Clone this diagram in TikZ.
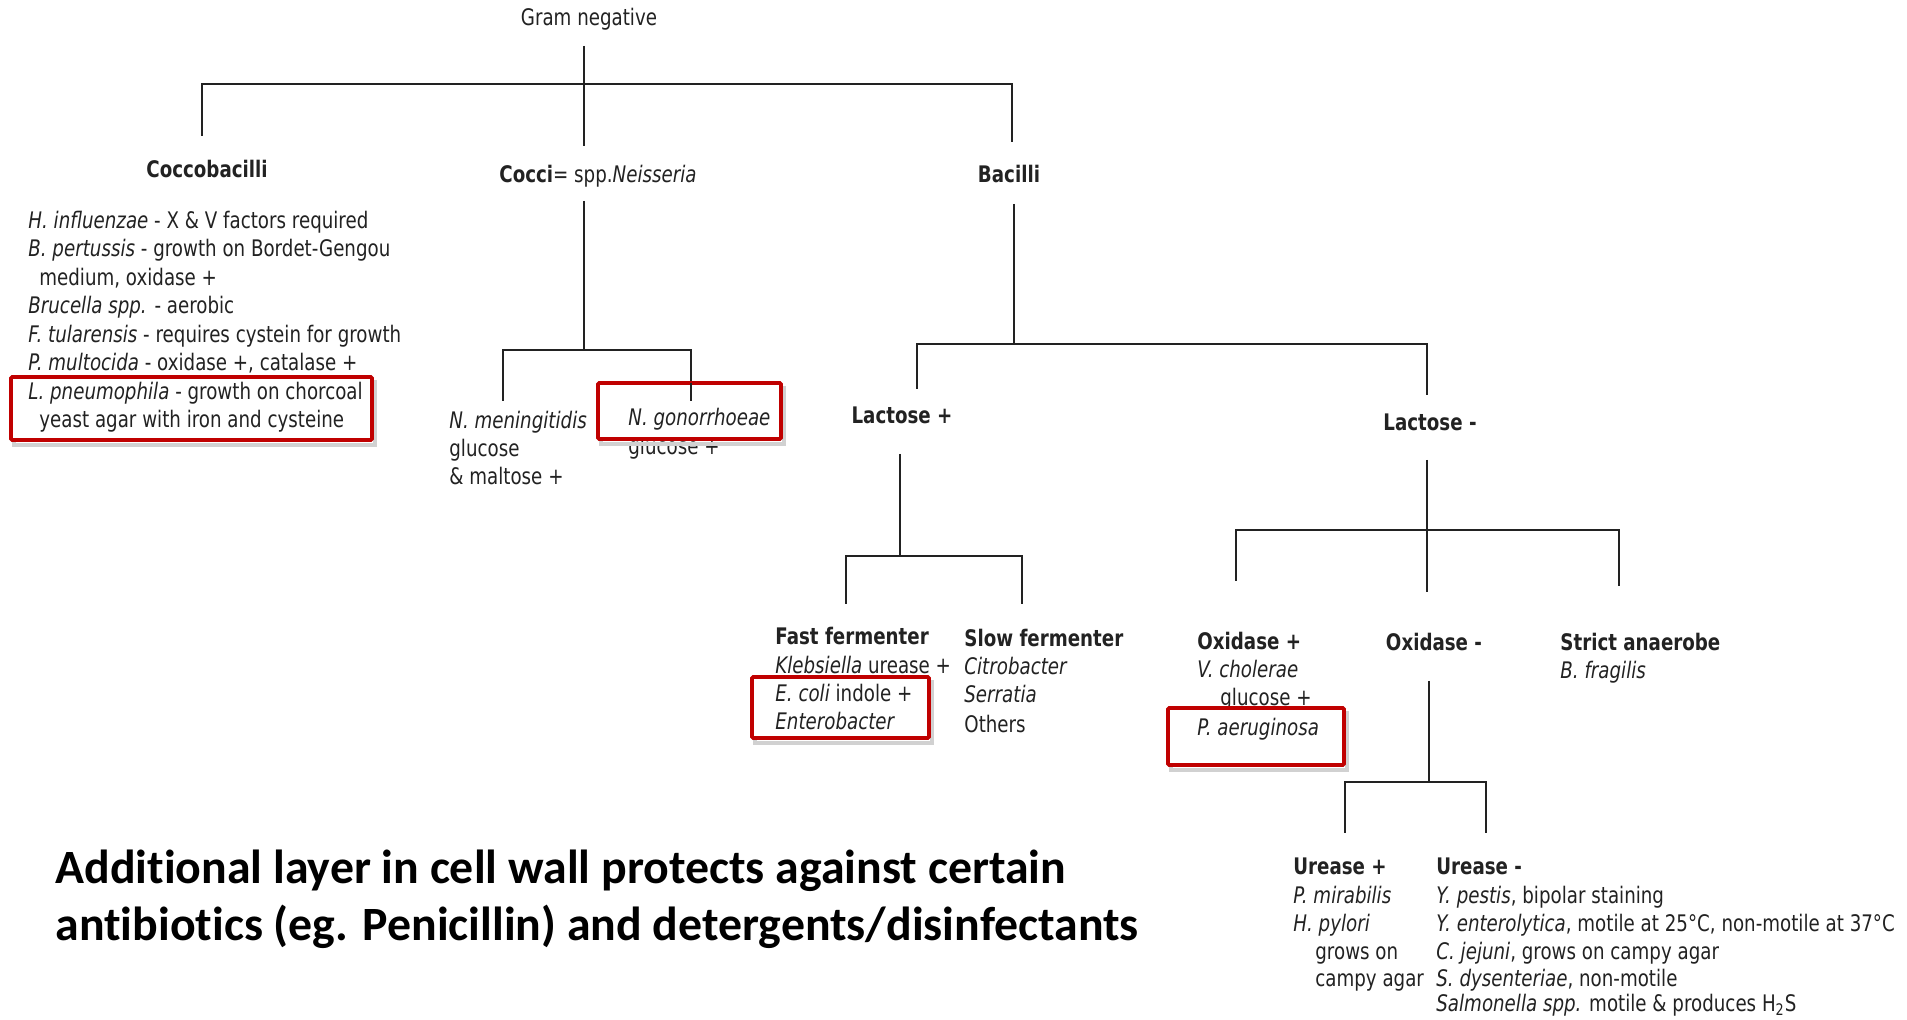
\documentclass[tikz,border=0pt]{standalone}
\usepackage{fontspec}
\setmainfont{DejaVu Sans}
\newfontfamily\dv[FakeStretch=0.8]{DejaVu Sans}
\newfontfamily\cb[Ligatures=NoCommon]{Carlito}
\definecolor{boxred}{HTML}{C00000}
\definecolor{ink}{HTML}{222222}
\begin{document}
\begin{tikzpicture}[x=0.5pt,y=-0.5pt,
  tl/.style={line width=0.75pt, draw=ink},
  tx/.style={font=\dv\fontsize{11.4}{13}\selectfont, text=ink, inner sep=0pt, text height=8.3pt, text depth=0pt, anchor=west},
  hd/.style={tx, font=\dv\bfseries\fontsize{11.4}{13}\selectfont},
  redbox/.style={draw=boxred, line width=1.8pt, rounded corners=0.6pt},
  shadowbox/.style={draw=black!18, line width=2.2pt},
  big/.style={font=\cb\bfseries\fontsize{23.9}{28}\selectfont, text=black, inner sep=0pt, anchor=west}]
\useasboundingbox (0,0) rectangle (1907,1020);
\fill[white] (0,0) rectangle (1907,1020);

% ---------- level 1 ----------
\node[tx, anchor=center] (gram) at (589,17) {Gram negative};
\node[hd, anchor=center] (cocb) at (207,169) {Coccobacilli};
\node[tx, anchor=center] (cocci) at (598,174) {\bfseries Cocci\mdseries= spp.\textit{Neisseria}};
\node[hd, anchor=center] (bac) at (1009,174) {Bacilli};

\coordinate (gA) at (584,46);   \coordinate (gB) at (584,146);
\coordinate (bL) at (202,84);   \coordinate (bR) at (1012,84);
\coordinate (bLd) at (202,136); \coordinate (bRd) at (1012,142);
\draw[tl] (gA) -- (gB);
\draw[tl] (bLd) -- (bL) -- (bR) -- (bRd);

% ---------- Coccobacilli list ----------
\node[tx] (cb1) at (28,220) {\textit{H. influenzae} - X \& V factors required};
\node[tx] (cb2) at (28,248.5) {\textit{B. pertussis} - growth on Bordet-Gengou};
\node[tx] (cb3) at (39,277) {medium, oxidase +};
\node[tx] (cb4) at (28,305.5) {\textit{Brucella spp.} - aerobic};
\node[tx] (cb5) at (28,334) {\textit{F. tularensis} - requires cystein for growth};
\node[tx] (cb6) at (28,362.5) {\textit{P. multocida} - oxidase +, catalase +};

% ---------- Neisseria ----------
\coordinate (cA) at (584,201);  \coordinate (cB) at (584,350);
\coordinate (nL) at (503,350);  \coordinate (nR) at (691,350);
\coordinate (nLd) at (503,401); \coordinate (nRd) at (691,401);
\draw[tl] (cA) -- (cB);
\draw[tl] (nLd) -- (nL) -- (nR) -- (nRd);
\node[tx] (nm1) at (449,420) {\textit{N. meningitidis}};
\node[tx] (nm2) at (449,448) {glucose};
\node[tx] (nm3) at (449,476) {\& maltose +};
\node[tx] (ng2) at (628,446) {glucose +};

% ---------- Bacilli ----------
\coordinate (baA) at (1014,204);  \coordinate (baB) at (1014,344);
\coordinate (laL) at (917,344);   \coordinate (laR) at (1427,344);
\coordinate (laLd) at (917,389);  \coordinate (laRd) at (1427,395);
\draw[tl] (baA) -- (baB);
\draw[tl] (laLd) -- (laL) -- (laR) -- (laRd);
\node[hd, anchor=center] (lp) at (902,415) {Lactose +};
\node[hd, anchor=center] (lm) at (1430,422) {Lactose -};

% ---------- Lactose + ----------
\coordinate (lpA) at (900,454);  \coordinate (lpB) at (900,556);
\coordinate (fL) at (846,556);   \coordinate (fR) at (1022,556);
\coordinate (fLd) at (846,604);  \coordinate (fRd) at (1022,604);
\draw[tl] (lpA) -- (lpB);
\draw[tl] (fLd) -- (fL) -- (fR) -- (fRd);
\node[hd] (ff0) at (775,636) {Fast fermenter};
\node[tx] (ff1) at (775,665) {\underline{\textit{Klebsiella}} urease +};
\node[hd] (sf0) at (964,638) {Slow fermenter};
\node[tx] (sf1) at (964,666) {\textit{Citrobacter}};
\node[tx] (sf2) at (964,694) {\textit{Serratia}};
\node[tx] (sf3) at (964,724) {Others};

% ---------- Lactose - ----------
\coordinate (lmA) at (1427,460);  \coordinate (lmB) at (1427,592);
\coordinate (oL) at (1236,530);   \coordinate (oR) at (1619,530);
\coordinate (oLd) at (1236,581);  \coordinate (oRd) at (1619,586);
\draw[tl] (lmA) -- (lmB);
\draw[tl] (oLd) -- (oL) -- (oR) -- (oRd);
\node[hd] (op0) at (1197,641) {Oxidase +};
\node[tx] (op1) at (1197,669) {\textit{V. cholerae}};
\node[tx] (op2) at (1220,697) {glucose +};
\node[hd, anchor=center] (om) at (1434,642) {Oxidase -};
\node[hd] (sa0) at (1560,642) {Strict anaerobe};
\node[tx] (sa1) at (1560,670) {\textit{B. fragilis}};

% ---------- Oxidase - ----------
\coordinate (omA) at (1429,681);  \coordinate (omB) at (1429,782);
\coordinate (uL) at (1345,782);   \coordinate (uR) at (1486,782);
\coordinate (uLd) at (1345,833);  \coordinate (uRd) at (1486,833);
\draw[tl] (omA) -- (omB);
\draw[tl] (uLd) -- (uL) -- (uR) -- (uRd);
\node[hd] (up0) at (1293,866) {Urease +};
\node[tx] (up1) at (1293,895) {\textit{P. mirabilis}};
\node[tx] (up2) at (1293,923) {\textit{H. pylori}};
\node[tx] (up3) at (1315,951) {grows on};
\node[tx] (up4) at (1315,978) {campy agar};
\node[hd] (um0) at (1436,866) {Urease -};
\node[tx] (um1) at (1436,895) {\textit{Y. pestis}, bipolar staining};
\node[tx] (um2) at (1436,923) {\textit{Y. enterolytica}, motile at 25°C, non-motile at 37°C};
\node[tx] (um3) at (1436,951) {\textit{C. jejuni}, grows on campy agar};
\node[tx] (um4) at (1436,978) {\textit{S. dysenteriae}, non-motile};
\node[tx] (um5) at (1436,1003) {\textit{Salmonella spp.} motile \& produces H\textsubscript{2}S};

% ---------- red highlight boxes ----------
\foreach \a/\b/\c/\d in {11/377/372/440, 598/383/781/439, 752/677/929/738, 1168/708/1344/765}{
  \draw[shadowbox] (\a+3,\b+5) rectangle (\c+3,\d+5);
  \fill[white] (\a,\b) rectangle (\c,\d);
  \draw[redbox] (\a,\b) rectangle (\c,\d);
}
% text that sits inside the boxes
\node[tx] (cb7) at (28,391) {\textit{L. pneumophila} - growth on chorcoal};
\node[tx] (cb8) at (39,419.5) {yeast agar with iron and cysteine};
\node[tx] (ng1) at (628,417) {\textit{N. gonorrhoeae}};
\coordinate (nRb) at (691,383);
\draw[tl] (nRb) -- (nRd);
\node[tx] (ff2) at (775,693) {\textit{E. coli} indole +};
\node[tx] (ff3) at (775,721) {\textit{Enterobacter}};
\node[tx] (op3) at (1197,727) {\textit{P. aeruginosa}};

% ---------- bottom caption ----------
\node[big] (cap1) at (55,871) {Additional layer in cell wall protects against certain};
\node[big] (cap2) at (55,927) {antibiotics (eg. Penicillin) and detergents/disinfectants};
\end{tikzpicture}
\end{document}
